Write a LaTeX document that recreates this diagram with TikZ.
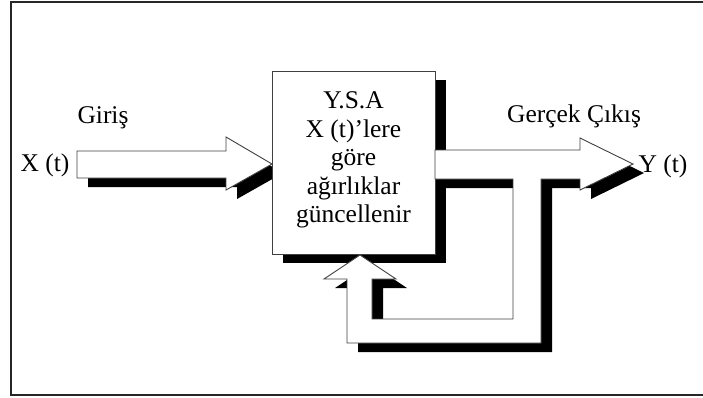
\documentclass[tikz,border=0pt]{standalone}
\usepackage{fontspec}
\setmainfont{Liberation Serif}
\begin{document}
\begin{tikzpicture}[x=1pt,y=-1pt,
  shade/.style={fill=black,draw=none,shift={(11,9)}},
  body/.style={fill=white,draw=black!75,line width=0.9pt,line join=miter},
  lbl/.style={font=\fontsize{25.5}{28.5}\selectfont,inner sep=0pt},
  frame/.style={draw=black!85,line width=1.8pt}]
\useasboundingbox (0,0) rectangle (703,397);
\draw[frame] (712,2) -- (11,2) -- (11,395) -- (712,395);
% input arrow
\path[shade] (77,151) -- (226,151) -- (226,137) -- (272,164) -- (226,190) -- (226,178) -- (77,178) -- cycle;
\path[body] (77,151) -- (226,151) -- (226,137) -- (272,164) -- (226,190) -- (226,178) -- (77,178) -- cycle;
% box
\fill[shift={(11,9)}] (272,71) rectangle (435,254);
\node[body,minimum width=163pt,minimum height=183pt,anchor=north west,inner sep=0pt] (ysa) at (272,71) {};
\node[lbl,align=center] (ysatext) at (353.5,160) {Y.S.A\\X (t)’lere\\göre\\ağırlıklar\\güncellenir};
% output + feedback arrow
\path[shade] (435,150) -- (580,150) -- (580,138) -- (633,164) -- (580,190) -- (580,179) -- (541,179) -- (541,343) -- (347,343) -- (347,279) -- (324,279) -- (360,255) -- (396,279) -- (372,279) -- (372,319) -- (513,319) -- (513,179) -- (435,179) -- cycle;
\path[body] (435,150) -- (580,150) -- (580,138) -- (633,164) -- (580,190) -- (580,179) -- (541,179) -- (541,343) -- (347,343) -- (347,279) -- (324,279) -- (360,255) -- (396,279) -- (372,279) -- (372,319) -- (513,319) -- (513,179) -- (435,179) -- cycle;
% labels
\node[lbl] (giris) at (103,118) {Giriş};
\node[lbl] (xt) at (45,165) {X (t)};
\node[lbl] (cikis) at (574,116) {Gerçek Çıkış};
\node[lbl] (yt) at (663,166) {Y (t)};
\end{tikzpicture}
\end{document}
